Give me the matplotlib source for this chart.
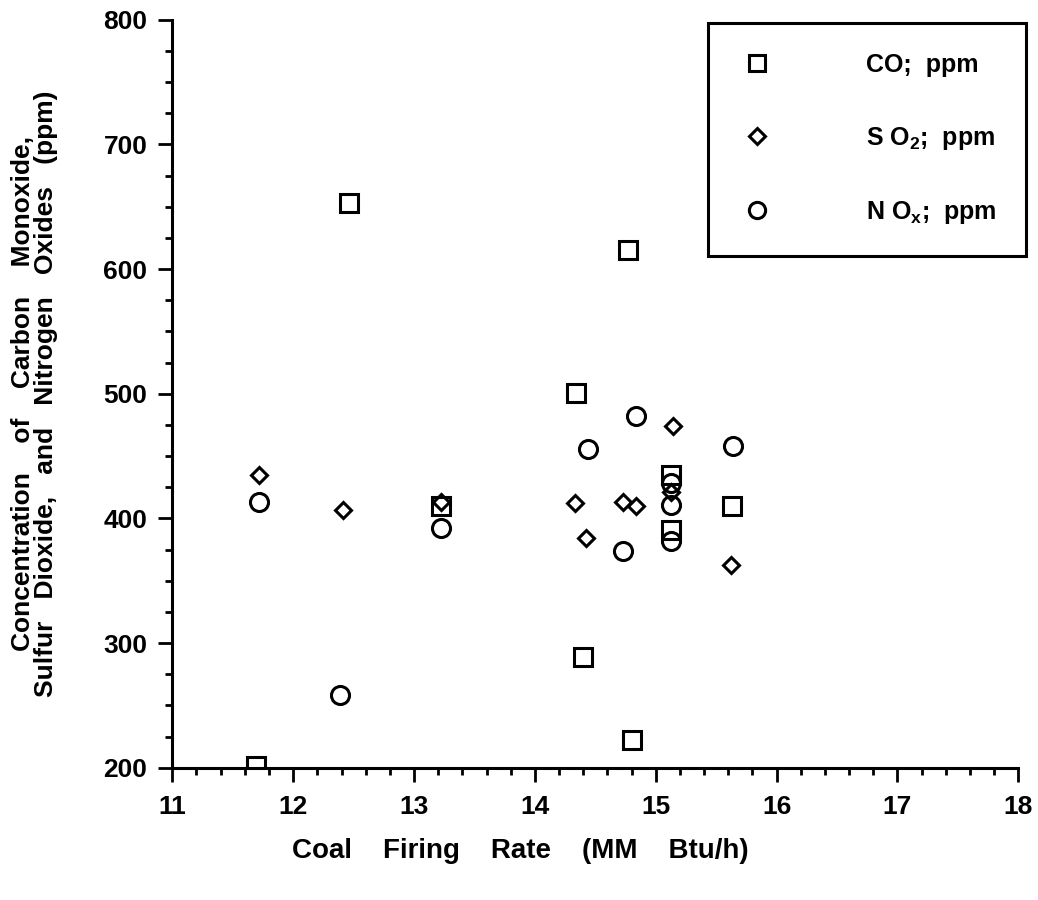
import matplotlib
matplotlib.use('Agg')
import matplotlib.pyplot as plt
from matplotlib.ticker import MultipleLocator

plt.rcParams['font.family'] = ['Liberation Sans', 'DejaVu Sans']
plt.rcParams['font.weight'] = 'bold'
plt.rcParams['mathtext.fontset'] = 'custom'
plt.rcParams['mathtext.rm'] = 'Liberation Sans:bold'
plt.rcParams['mathtext.bf'] = 'Liberation Sans:bold'
plt.rcParams['mathtext.default'] = 'bf'

# CO (ppm) vs coal firing rate (MM Btu/h)
co_rate = [11.69, 12.46, 13.22, 14.34, 14.40, 14.77, 14.80, 15.13, 15.13, 15.63]
co_ppm = [201, 653, 410, 501, 289, 615, 222, 435, 391, 410]

# SO2 (ppm)
so2_rate = [11.72, 12.41, 13.22, 14.33, 14.42, 14.73, 14.84, 15.14, 15.13, 15.62]
so2_ppm = [435, 407, 413, 412, 384, 413, 410, 474, 421, 363]

# NOx (ppm)
nox_rate = [11.72, 12.39, 13.22, 14.44, 14.73, 14.84, 15.13, 15.13, 15.13, 15.64]
nox_ppm = [413, 258, 392, 456, 374, 482, 428, 411, 382, 458]

fig = plt.figure(figsize=(10.38, 9), dpi=100)
ax = fig.add_axes([0.166, 0.147, 0.815, 0.831])

style = dict(linestyle='none', markerfacecolor='none', markeredgecolor='black',
             markeredgewidth=2.2)
ax.plot(co_rate, co_ppm, marker='s', markersize=13, label='CO;  ppm', **style)
ax.plot(so2_rate, so2_ppm, marker='D', markersize=8.5, label=r'S O$_2$;  ppm', **style)
ax.plot(nox_rate, nox_ppm, marker='o', markersize=13, label=r'N O$_x$;  ppm', **style)

ax.set_xlim(11, 18)
ax.set_ylim(200, 800)
ax.xaxis.set_major_locator(MultipleLocator(1))
ax.xaxis.set_minor_locator(MultipleLocator(0.2))
ax.yaxis.set_major_locator(MultipleLocator(100))
ax.yaxis.set_minor_locator(MultipleLocator(25))

for side in ['top', 'right']:
    ax.spines[side].set_visible(False)
for side in ['left', 'bottom']:
    ax.spines[side].set_linewidth(2.2)

ax.tick_params(which='major', direction='out', length=10, width=2, labelsize=19)
ax.tick_params(axis='x', which='major', pad=10)
ax.tick_params(axis='y', which='major', pad=8)
ax.tick_params(which='minor', direction='out', length=5, width=2)

ax.set_xlabel('Coal    Firing    Rate    (MM    Btu/h)', fontsize=20, fontweight='bold')
ax.xaxis.set_label_coords(0.411, -0.094)
ax.set_ylabel('Concentration    of    Carbon    Monoxide,\nSulfur   Dioxide,   and   Nitrogen   Oxides   (ppm)',
              fontsize=19, fontweight='bold', linespacing=0.95)
ax.yaxis.set_label_coords(-0.135, 0.5)

leg = ax.legend(loc='upper left', bbox_to_anchor=(708 / 1038, 1 - 23 / 900),
                bbox_transform=fig.transFigure, fontsize=18,
                frameon=True, fancybox=False, edgecolor='black', markerscale=0.9,
                borderpad=1.2, labelspacing=1.9, handletextpad=3.6, handlelength=1.5,
                borderaxespad=0, framealpha=1)
leg.get_frame().set_linewidth(2.2)

fig.savefig('out.png', dpi=100)
